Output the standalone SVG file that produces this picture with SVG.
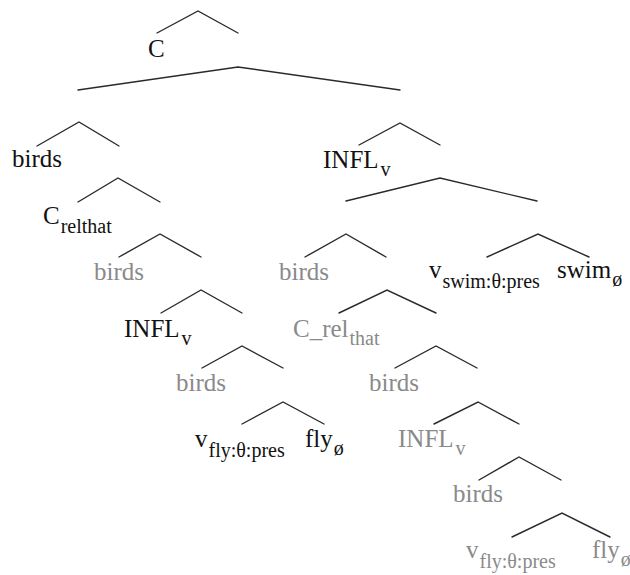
<svg xmlns="http://www.w3.org/2000/svg" width="630" height="575" viewBox="0 0 630 575">
<style>
text{font-size:25px;fill:#111}
.g{fill:#8a8a8a}
.s{font-size:20px}
polyline{fill:none;stroke:#2a2a2a;stroke-width:1.4;stroke-linecap:round;stroke-linejoin:miter}
</style>
<rect width="630" height="575" fill="#fff"/>
<g id="connectors">
<polyline points="157,33 198,11 238,33"/>
<polyline points="78,90 238,67 400,90"/>
<polyline points="37,146 79,122 119,146"/>
<polyline points="78,202 118,178 160,202"/>
<polyline points="119,257 160,234 201,257"/>
<polyline points="161,313 201,290 242,313"/>
<polyline points="202,368 242,346 283,368"/>
<polyline points="242,424 283,402 324,424"/>
<polyline points="359,145 400,123 440,145"/>
<polyline points="346,201 440,178 537,201"/>
<polyline points="305,257 346,234 386,257"/>
<polyline points="487,257 538,234 589,257"/>
<polyline points="339,313 387,290 436,313"/>
<polyline points="395,368 436,346 477,368"/>
<polyline points="434,424 478,402 519,424"/>
<polyline points="479,480 519,457 561,480"/>
<polyline points="512,537 562,513 610,537"/>
</g>
<g font-family="Liberation Serif, DejaVu Serif, serif">
<g id="n_C"><text x="148" y="57">C</text></g>
<g id="n_birds1"><text x="12" y="167">birds</text></g>
<g id="n_Crel1"><text x="43" y="224">C<tspan class="s" dy="9" dx="1">relthat</tspan></text></g>
<g id="n_birds2"><text class="g" x="94" y="280">birds</text></g>
<g id="n_INFL1"><text x="124" y="337">INFL<tspan class="s" dy="8" dx="2">v</tspan></text></g>
<g id="n_birds3"><text class="g" x="176" y="391">birds</text></g>
<g id="n_vfly1"><text x="195" y="447">v<tspan class="s" dy="10" dx="1">fly:θ:pres</tspan></text></g>
<g id="n_fly1"><text x="305" y="447">fly<tspan class="s" dy="8" dx="1">ø</tspan></text></g>
<g id="n_INFL2"><text x="323" y="168">INFL<tspan class="s" dy="8" dx="2">v</tspan></text></g>
<g id="n_birds4"><text class="g" x="279" y="280">birds</text></g>
<g id="n_vswim"><text x="429" y="278">v<tspan class="s" dy="10" dx="1">swim:θ:pres</tspan></text></g>
<g id="n_swim"><text x="557" y="278">swim<tspan class="s" dy="8" dx="1">ø</tspan></text></g>
<g id="n_Crel2"><text class="g" x="293" y="337">C_rel<tspan class="s" dy="8" dx="1">that</tspan></text></g>
<g id="n_birds5"><text class="g" x="369" y="391">birds</text></g>
<g id="n_INFL3"><text class="g" x="398" y="447">INFL<tspan class="s" dy="8" dx="2">v</tspan></text></g>
<g id="n_birds6"><text class="g" x="453" y="502">birds</text></g>
<g id="n_vfly2"><text class="g" x="466" y="558">v<tspan class="s" dy="10" dx="1">fly:θ:pres</tspan></text></g>
<g id="n_fly2"><text class="g" x="592" y="558">fly<tspan class="s" dy="8" dx="1">ø</tspan></text></g>
</g>
</svg>
